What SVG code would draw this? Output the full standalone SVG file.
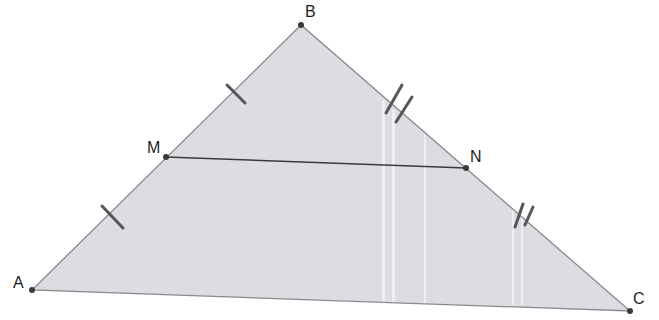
<svg xmlns="http://www.w3.org/2000/svg" width="659" height="320" viewBox="0 0 659 320">
<style>
.edge{fill:none;stroke:#8a8a8e;stroke-width:1.3}
.seg{stroke:#3a3a3e;stroke-width:1.5}
.tick{stroke:#55555a;stroke-width:3;stroke-linecap:round}
.dot{fill:#3a3a3a}
.lbl{font-family:"Liberation Sans",Arial,sans-serif;font-size:16px;fill:#1e1e1e}
.stripe{fill:#ffffff;opacity:0.55}
</style>
<rect width="659" height="320" fill="#ffffff"/>
<g id="triangle">
<polygon points="32,290 301,25 630,311" fill="#dcdce2"/>
<rect class="stripe" x="382" y="100" width="3" height="205"/>
<rect class="stripe" x="392" y="110" width="3" height="195"/>
<rect class="stripe" x="424" y="135" width="2" height="170"/>
<rect class="stripe" x="512" y="210" width="2" height="95"/>
<rect class="stripe" x="521" y="215" width="2" height="90"/>
<polygon class="edge" points="32,290 301,25 630,311"/>
</g>
<g id="connectors">
<line class="seg" x1="166" y1="157" x2="466" y2="168"/>
<line class="tick" x1="102" y1="206" x2="123" y2="228"/>
<line class="tick" x1="227" y1="85" x2="245" y2="103"/>
<line class="tick" x1="386" y1="113" x2="402" y2="85"/>
<line class="tick" x1="396" y1="122" x2="412" y2="97"/>
<line class="tick" x1="515" y1="227" x2="523" y2="204"/>
<line class="tick" x1="525" y1="225" x2="533" y2="207"/>
</g>
<g id="A"><circle class="dot" cx="32" cy="290" r="3"/><text class="lbl" x="13" y="288">A</text></g>
<g id="B"><circle class="dot" cx="301" cy="25" r="3"/><text class="lbl" x="305" y="17">B</text></g>
<g id="C"><circle class="dot" cx="630" cy="311" r="3"/><text class="lbl" x="633" y="304">C</text></g>
<g id="M"><circle class="dot" cx="166" cy="157" r="3"/><text class="lbl" x="147" y="153">M</text></g>
<g id="N"><circle class="dot" cx="466" cy="168" r="3"/><text class="lbl" x="470" y="162">N</text></g>
</svg>
